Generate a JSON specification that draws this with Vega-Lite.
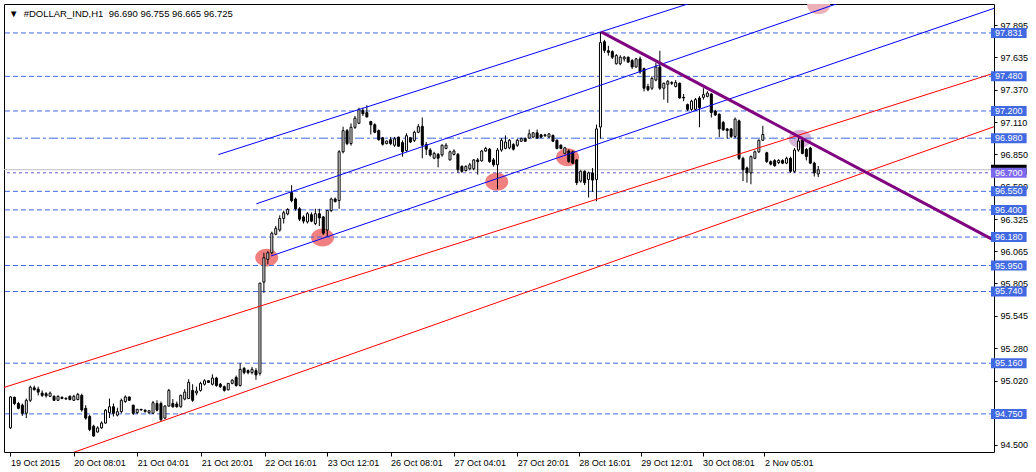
{
"$schema":"https://vega.github.io/schema/vega-lite/v6.json",
"width":990,"height":448,
"autosize":{"type":"none"},
"padding":{"left":4,"top":4,"right":42,"bottom":20},
"background":"white",
"config":{"view":{"stroke":"black","strokeWidth":1},"axis":{"labelFont":"Liberation Sans","labelFontSize":9,"labelColor":"black","tickColor":"black","grid":false,"domain":false}},
"title":{"text":"▼\u00a0\u00a0#DOLLAR_IND,H1\u00a0\u00a096.690 96.755 96.665 96.725","anchor":"start","frame":"group","offset":0,"dx":5,"dy":22,"font":"Liberation Sans","fontSize":9.5,"fontWeight":"normal","color":"black","baseline":"alphabetic"},
"resolve":{"scale":{"color":"independent"}},
"datasets":{
"bars":[
{"i":0,"o":94.637,"h":94.892,"l":94.629,"c":94.887},
{"i":1,"o":94.884,"h":94.89,"l":94.821,"c":94.834},
{"i":2,"o":94.834,"h":94.847,"l":94.787,"c":94.795},
{"i":3,"o":94.821,"h":94.834,"l":94.734,"c":94.755},
{"i":4,"o":94.755,"h":94.874,"l":94.716,"c":94.86},
{"i":5,"o":94.86,"h":94.979,"l":94.847,"c":94.966},
{"i":6,"o":94.961,"h":94.979,"l":94.94,"c":94.945},
{"i":7,"o":94.95,"h":94.97,"l":94.9,"c":94.926},
{"i":8,"o":94.918,"h":94.94,"l":94.887,"c":94.9},
{"i":9,"o":94.913,"h":94.926,"l":94.882,"c":94.897},
{"i":10,"o":94.892,"h":94.931,"l":94.887,"c":94.918},
{"i":11,"o":94.892,"h":94.9,"l":94.855,"c":94.86},
{"i":12,"o":94.86,"h":94.9,"l":94.855,"c":94.892},
{"i":13,"o":94.884,"h":94.892,"l":94.87,"c":94.874},
{"i":14,"o":94.87,"h":94.884,"l":94.865,"c":94.876},
{"i":15,"o":94.892,"h":94.9,"l":94.86,"c":94.866},
{"i":16,"o":94.86,"h":94.905,"l":94.855,"c":94.892},
{"i":17,"o":94.866,"h":94.92,"l":94.86,"c":94.908},
{"i":18,"o":94.9,"h":94.913,"l":94.768,"c":94.782},
{"i":19,"o":94.795,"h":94.82,"l":94.703,"c":94.716},
{"i":20,"o":94.729,"h":94.742,"l":94.61,"c":94.624},
{"i":21,"o":94.65,"h":94.663,"l":94.566,"c":94.571},
{"i":22,"o":94.603,"h":94.65,"l":94.6,"c":94.637},
{"i":23,"o":94.637,"h":94.69,"l":94.63,"c":94.676},
{"i":24,"o":94.676,"h":94.79,"l":94.67,"c":94.78},
{"i":25,"o":94.76,"h":94.874,"l":94.716,"c":94.808},
{"i":26,"o":94.808,"h":94.834,"l":94.729,"c":94.755},
{"i":27,"o":94.74,"h":94.8,"l":94.73,"c":94.768},
{"i":28,"o":94.768,"h":94.874,"l":94.755,"c":94.86},
{"i":29,"o":94.85,"h":94.9,"l":94.84,"c":94.887},
{"i":30,"o":94.887,"h":94.89,"l":94.855,"c":94.86},
{"i":31,"o":94.82,"h":94.825,"l":94.742,"c":94.755},
{"i":32,"o":94.76,"h":94.79,"l":94.75,"c":94.787},
{"i":33,"o":94.787,"h":94.79,"l":94.775,"c":94.782},
{"i":34,"o":94.78,"h":94.787,"l":94.76,"c":94.77},
{"i":35,"o":94.76,"h":94.78,"l":94.75,"c":94.776},
{"i":36,"o":94.755,"h":94.855,"l":94.75,"c":94.84},
{"i":37,"o":94.834,"h":94.86,"l":94.77,"c":94.78},
{"i":38,"o":94.834,"h":94.85,"l":94.69,"c":94.703},
{"i":39,"o":94.716,"h":94.82,"l":94.71,"c":94.813},
{"i":40,"o":94.813,"h":94.952,"l":94.81,"c":94.94},
{"i":41,"o":94.834,"h":94.87,"l":94.8,"c":94.808},
{"i":42,"o":94.83,"h":94.85,"l":94.8,"c":94.808},
{"i":43,"o":94.808,"h":94.905,"l":94.8,"c":94.9},
{"i":44,"o":94.87,"h":94.95,"l":94.86,"c":94.926},
{"i":45,"o":94.874,"h":95.03,"l":94.87,"c":95.005},
{"i":46,"o":94.94,"h":94.99,"l":94.847,"c":94.86},
{"i":47,"o":94.92,"h":94.97,"l":94.9,"c":94.935},
{"i":48,"o":94.94,"h":95.01,"l":94.93,"c":94.997},
{"i":49,"o":94.99,"h":95.03,"l":94.98,"c":95.018},
{"i":50,"o":95.018,"h":95.02,"l":95.0,"c":95.005},
{"i":51,"o":94.99,"h":95.07,"l":94.98,"c":95.04},
{"i":52,"o":95.04,"h":95.05,"l":94.97,"c":94.98},
{"i":53,"o":94.99,"h":95.0,"l":94.96,"c":94.97},
{"i":54,"o":94.97,"h":94.98,"l":94.93,"c":94.94},
{"i":55,"o":94.945,"h":95.0,"l":94.94,"c":94.997},
{"i":56,"o":94.997,"h":95.03,"l":94.99,"c":95.023},
{"i":57,"o":95.045,"h":95.06,"l":94.97,"c":94.98},
{"i":58,"o":94.98,"h":95.16,"l":94.97,"c":95.11},
{"i":59,"o":95.118,"h":95.13,"l":95.07,"c":95.084},
{"i":60,"o":95.1,"h":95.11,"l":95.07,"c":95.084},
{"i":61,"o":95.084,"h":95.13,"l":95.07,"c":95.11},
{"i":62,"o":95.1,"h":95.12,"l":95.026,"c":95.065},
{"i":63,"o":95.078,"h":95.81,"l":95.06,"c":95.808},
{"i":64,"o":95.816,"h":96.053,"l":95.729,"c":96.013},
{"i":65,"o":96.0,"h":96.066,"l":95.96,"c":96.053},
{"i":66,"o":96.053,"h":96.224,"l":96.04,"c":96.211},
{"i":67,"o":96.203,"h":96.27,"l":96.195,"c":96.25},
{"i":68,"o":96.237,"h":96.356,"l":96.224,"c":96.33},
{"i":69,"o":96.33,"h":96.395,"l":96.29,"c":96.377},
{"i":70,"o":96.367,"h":96.414,"l":96.356,"c":96.403},
{"i":71,"o":96.54,"h":96.6,"l":96.462,"c":96.475},
{"i":72,"o":96.488,"h":96.5,"l":96.395,"c":96.409},
{"i":73,"o":96.409,"h":96.422,"l":96.309,"c":96.325},
{"i":74,"o":96.343,"h":96.356,"l":96.29,"c":96.309},
{"i":75,"o":96.303,"h":96.382,"l":96.29,"c":96.369},
{"i":76,"o":96.361,"h":96.38,"l":96.3,"c":96.309},
{"i":77,"o":96.29,"h":96.409,"l":96.277,"c":96.369},
{"i":78,"o":96.369,"h":96.409,"l":96.27,"c":96.335},
{"i":79,"o":96.343,"h":96.35,"l":96.198,"c":96.211},
{"i":80,"o":96.237,"h":96.4,"l":96.185,"c":96.395},
{"i":81,"o":96.395,"h":96.5,"l":96.382,"c":96.488},
{"i":82,"o":96.488,"h":96.5,"l":96.46,"c":96.467},
{"i":83,"o":96.475,"h":96.883,"l":96.409,"c":96.87},
{"i":84,"o":96.87,"h":97.073,"l":96.857,"c":97.041},
{"i":85,"o":97.041,"h":97.054,"l":96.923,"c":96.936},
{"i":86,"o":96.936,"h":97.1,"l":96.92,"c":97.068},
{"i":87,"o":97.068,"h":97.16,"l":97.055,"c":97.142},
{"i":88,"o":97.1,"h":97.226,"l":97.094,"c":97.213},
{"i":89,"o":97.205,"h":97.226,"l":97.16,"c":97.178},
{"i":90,"o":97.186,"h":97.247,"l":97.147,"c":97.152},
{"i":91,"o":97.115,"h":97.12,"l":97.01,"c":97.089},
{"i":92,"o":97.089,"h":97.1,"l":97.02,"c":97.028},
{"i":93,"o":97.041,"h":97.05,"l":96.96,"c":96.968},
{"i":94,"o":96.983,"h":96.99,"l":96.92,"c":96.931},
{"i":95,"o":96.936,"h":96.96,"l":96.93,"c":96.957},
{"i":96,"o":96.968,"h":96.99,"l":96.923,"c":96.936},
{"i":97,"o":96.923,"h":96.99,"l":96.91,"c":96.975},
{"i":98,"o":96.988,"h":96.994,"l":96.91,"c":96.915},
{"i":99,"o":96.944,"h":96.962,"l":96.83,"c":96.87},
{"i":100,"o":96.88,"h":97.02,"l":96.87,"c":97.0},
{"i":101,"o":96.983,"h":96.99,"l":96.94,"c":96.949},
{"i":102,"o":96.962,"h":97.04,"l":96.949,"c":97.028},
{"i":103,"o":97.028,"h":97.094,"l":97.02,"c":97.073},
{"i":104,"o":97.076,"h":97.147,"l":96.818,"c":96.923},
{"i":105,"o":96.928,"h":96.949,"l":96.844,"c":96.891},
{"i":106,"o":96.884,"h":96.9,"l":96.83,"c":96.844},
{"i":107,"o":96.818,"h":96.87,"l":96.81,"c":96.857},
{"i":108,"o":96.849,"h":96.86,"l":96.744,"c":96.818},
{"i":109,"o":96.844,"h":96.93,"l":96.83,"c":96.923},
{"i":110,"o":96.897,"h":96.94,"l":96.89,"c":96.923},
{"i":111,"o":96.804,"h":96.88,"l":96.8,"c":96.87},
{"i":112,"o":96.849,"h":96.89,"l":96.84,"c":96.876},
{"i":113,"o":96.849,"h":96.86,"l":96.699,"c":96.725},
{"i":114,"o":96.752,"h":96.76,"l":96.7,"c":96.712},
{"i":115,"o":96.718,"h":96.76,"l":96.71,"c":96.752},
{"i":116,"o":96.733,"h":96.78,"l":96.72,"c":96.765},
{"i":117,"o":96.733,"h":96.81,"l":96.72,"c":96.804},
{"i":118,"o":96.804,"h":96.82,"l":96.686,"c":96.791},
{"i":119,"o":96.797,"h":96.885,"l":96.79,"c":96.876},
{"i":120,"o":96.876,"h":96.91,"l":96.87,"c":96.897},
{"i":121,"o":96.891,"h":96.9,"l":96.78,"c":96.791},
{"i":122,"o":96.804,"h":96.82,"l":96.75,"c":96.765},
{"i":123,"o":96.765,"h":96.9,"l":96.567,"c":96.884},
{"i":124,"o":96.884,"h":96.98,"l":96.87,"c":96.963},
{"i":125,"o":96.897,"h":97.002,"l":96.89,"c":96.949},
{"i":126,"o":96.902,"h":96.975,"l":96.89,"c":96.963},
{"i":127,"o":96.928,"h":96.94,"l":96.88,"c":96.891},
{"i":128,"o":96.923,"h":96.975,"l":96.91,"c":96.963},
{"i":129,"o":96.955,"h":96.985,"l":96.95,"c":96.976},
{"i":130,"o":96.976,"h":96.985,"l":96.95,"c":96.955},
{"i":131,"o":96.981,"h":97.05,"l":96.975,"c":97.015},
{"i":132,"o":96.989,"h":97.03,"l":96.98,"c":97.023},
{"i":133,"o":97.023,"h":97.05,"l":96.975,"c":96.981},
{"i":134,"o":97.007,"h":97.015,"l":96.98,"c":96.989},
{"i":135,"o":97.0,"h":97.015,"l":96.99,"c":97.007},
{"i":136,"o":96.989,"h":97.02,"l":96.985,"c":97.015},
{"i":137,"o":97.002,"h":97.01,"l":96.95,"c":96.955},
{"i":138,"o":96.963,"h":96.97,"l":96.89,"c":96.897},
{"i":139,"o":96.923,"h":96.93,"l":96.89,"c":96.897},
{"i":140,"o":96.857,"h":96.91,"l":96.85,"c":96.902},
{"i":141,"o":96.876,"h":96.89,"l":96.78,"c":96.791},
{"i":142,"o":96.87,"h":96.88,"l":96.77,"c":96.778},
{"i":143,"o":96.804,"h":96.81,"l":96.6,"c":96.62},
{"i":144,"o":96.633,"h":96.72,"l":96.62,"c":96.712},
{"i":145,"o":96.712,"h":96.72,"l":96.6,"c":96.62},
{"i":146,"o":96.646,"h":96.71,"l":96.5,"c":96.699},
{"i":147,"o":96.699,"h":96.738,"l":96.546,"c":96.641},
{"i":148,"o":96.646,"h":97.09,"l":96.47,"c":97.055},
{"i":149,"o":97.07,"h":97.838,"l":96.975,"c":97.753},
{"i":150,"o":97.76,"h":97.775,"l":97.67,"c":97.69},
{"i":151,"o":97.687,"h":97.727,"l":97.648,"c":97.674},
{"i":152,"o":97.68,"h":97.69,"l":97.62,"c":97.635},
{"i":153,"o":97.582,"h":97.66,"l":97.575,"c":97.648},
{"i":154,"o":97.582,"h":97.65,"l":97.57,"c":97.635},
{"i":155,"o":97.621,"h":97.645,"l":97.6,"c":97.635},
{"i":156,"o":97.635,"h":97.64,"l":97.59,"c":97.595},
{"i":157,"o":97.608,"h":97.62,"l":97.54,"c":97.556},
{"i":158,"o":97.556,"h":97.63,"l":97.55,"c":97.621},
{"i":159,"o":97.621,"h":97.64,"l":97.5,"c":97.516},
{"i":160,"o":97.543,"h":97.55,"l":97.358,"c":97.384},
{"i":161,"o":97.398,"h":97.42,"l":97.36,"c":97.371},
{"i":162,"o":97.384,"h":97.48,"l":97.37,"c":97.463},
{"i":163,"o":97.45,"h":97.59,"l":97.44,"c":97.556},
{"i":164,"o":97.556,"h":97.687,"l":97.37,"c":97.384},
{"i":165,"o":97.384,"h":97.43,"l":97.292,"c":97.424},
{"i":166,"o":97.416,"h":97.45,"l":97.266,"c":97.44},
{"i":167,"o":97.43,"h":97.44,"l":97.41,"c":97.424},
{"i":168,"o":97.398,"h":97.45,"l":97.39,"c":97.43},
{"i":169,"o":97.424,"h":97.43,"l":97.3,"c":97.305},
{"i":170,"o":97.31,"h":97.337,"l":97.279,"c":97.305},
{"i":171,"o":97.252,"h":97.26,"l":97.2,"c":97.213},
{"i":172,"o":97.213,"h":97.29,"l":97.2,"c":97.279},
{"i":173,"o":97.213,"h":97.305,"l":97.2,"c":97.292},
{"i":174,"o":97.305,"h":97.32,"l":97.068,"c":97.226},
{"i":175,"o":97.31,"h":97.384,"l":97.292,"c":97.332},
{"i":176,"o":97.318,"h":97.36,"l":97.31,"c":97.345},
{"i":177,"o":97.337,"h":97.345,"l":97.147,"c":97.187},
{"i":178,"o":97.2,"h":97.21,"l":97.16,"c":97.168},
{"i":179,"o":97.173,"h":97.18,"l":96.989,"c":97.055},
{"i":180,"o":97.107,"h":97.12,"l":97.04,"c":97.047},
{"i":181,"o":97.055,"h":97.06,"l":96.976,"c":97.042},
{"i":182,"o":97.055,"h":97.06,"l":96.98,"c":96.994},
{"i":183,"o":96.994,"h":97.147,"l":96.98,"c":97.134},
{"i":184,"o":97.12,"h":97.13,"l":96.804,"c":96.817},
{"i":185,"o":96.817,"h":96.83,"l":96.633,"c":96.725},
{"i":186,"o":96.739,"h":96.75,"l":96.62,"c":96.699},
{"i":187,"o":96.699,"h":96.84,"l":96.607,"c":96.831},
{"i":188,"o":96.817,"h":96.88,"l":96.81,"c":96.87},
{"i":189,"o":96.87,"h":96.97,"l":96.86,"c":96.963},
{"i":190,"o":96.963,"h":97.08,"l":96.96,"c":97.01},
{"i":191,"o":96.862,"h":96.87,"l":96.78,"c":96.791},
{"i":192,"o":96.79,"h":96.8,"l":96.76,"c":96.77},
{"i":193,"o":96.799,"h":96.81,"l":96.75,"c":96.757},
{"i":194,"o":96.783,"h":96.81,"l":96.77,"c":96.8},
{"i":195,"o":96.799,"h":96.81,"l":96.77,"c":96.778},
{"i":196,"o":96.778,"h":96.83,"l":96.77,"c":96.817},
{"i":197,"o":96.817,"h":96.83,"l":96.7,"c":96.712},
{"i":198,"o":96.712,"h":96.9,"l":96.7,"c":96.884},
{"i":199,"o":96.884,"h":96.99,"l":96.87,"c":96.957},
{"i":200,"o":96.963,"h":96.99,"l":96.85,"c":96.857},
{"i":201,"o":96.889,"h":96.9,"l":96.8,"c":96.831},
{"i":202,"o":96.9,"h":96.91,"l":96.77,"c":96.778},
{"i":203,"o":96.778,"h":96.79,"l":96.67,"c":96.699},
{"i":204,"o":96.69,"h":96.755,"l":96.665,"c":96.725}
],
"levels":[{"p":97.831},{"p":97.48},{"p":97.2},{"p":96.55},{"p":96.4},{"p":96.18},{"p":95.95},{"p":95.74},{"p":95.16},{"p":94.75}],
"tags":[{"p":97.831,"kind":"level"},{"p":97.48,"kind":"level"},{"p":97.2,"kind":"level"},{"p":96.98,"kind":"level"},{"p":96.55,"kind":"level"},{"p":96.4,"kind":"level"},{"p":96.18,"kind":"level"},{"p":95.95,"kind":"level"},{"p":95.74,"kind":"level"},{"p":95.16,"kind":"level"},{"p":94.75,"kind":"level"},{"p":96.725,"kind":"bid"},{"p":96.7,"kind":"ask"}],
"trend":[
{"id":"a","kind":"channel","i":52.5,"p":96.847},{"id":"a","kind":"channel","i":173.75,"p":98.093},
{"id":"b","kind":"channel","i":62.1,"p":96.449},{"id":"b","kind":"channel","i":211.25,"p":98.095},
{"id":"c","kind":"channel","i":65.8,"p":96.027},{"id":"c","kind":"channel","i":248.75,"p":98.034},
{"id":"r1","kind":"support","i":-6.25,"p":94.917},{"id":"r1","kind":"support","i":251.25,"p":97.535},
{"id":"r2","kind":"support","i":13.75,"p":94.414},{"id":"r2","kind":"support","i":251.25,"p":97.105}
],
"down":[{"i":149.2,"p":97.84},{"i":251.25,"p":96.106}],
"spots":[
{"i":64.7,"p":96.014,"kind":"pink"},
{"i":78.8,"p":96.177,"kind":"pink"},
{"i":122.8,"p":96.628,"kind":"pink"},
{"i":140.7,"p":96.825,"kind":"pink"},
{"i":199.4,"p":96.975,"kind":"lilac"},
{"i":204.1,"p":98.056,"kind":"faint"}
]
},
"layer":[
{"data":{"name":"spots"},
 "mark":{"type":"point","filled":true,"shape":"M-1,0A1,0.78,0,1,0,1,0A1,0.78,0,1,0,-1,0Z","size":529,"opacity":1,"clip":true},
 "encoding":{
  "x":{"field":"i","type":"quantitative","scale":{"domain":[-0.375,247.125],"nice":false,"zero":false},
   "axis":{"orient":"bottom","values":[0,16,32,48.2,64.2,80,96,112,128,143.5,159.2,174.8,190.4],"labelExpr":"datum.value < 8 ? '19 Oct 2015' : datum.value < 24 ? '20 Oct 08:01' : datum.value < 40 ? '21 Oct 04:01' : datum.value < 56 ? '21 Oct 20:01' : datum.value < 72 ? '22 Oct 16:01' : datum.value < 88 ? '23 Oct 12:01' : datum.value < 104 ? '26 Oct 08:01' : datum.value < 120 ? '27 Oct 04:01' : datum.value < 136 ? '27 Oct 20:01' : datum.value < 151 ? '28 Oct 16:01' : datum.value < 167 ? '29 Oct 12:01' : datum.value < 182 ? '30 Oct 08:01' : '2 Nov 05:01'","labelAlign":"left","labelBaseline":"top","tickSize":4,"labelPadding":2,"labelFlush":false,"labelOverlap":false,"title":null}},
  "y":{"field":"p","type":"quantitative","scale":{"domain":[94.4823,98.0247],"nice":false,"zero":false},
   "axis":{"orient":"right","values":[97.895,97.635,97.37,97.11,96.85,96.59,96.325,96.065,95.805,95.545,95.28,95.02,94.5],"format":".3f","tickSize":3,"labelPadding":3,"labelBaseline":"middle","labelFlush":false,"labelOverlap":false,"title":null}},
  "color":{"field":"kind","type":"nominal","scale":{"domain":["pink","lilac","faint"],"range":["#F08080","#D8B4D8","#EBB0B8"]},"legend":null}}},
{"data":{"name":"levels"},
 "mark":{"type":"rule","color":"#4169E1","strokeWidth":1,"strokeDash":[5,3]},
 "encoding":{
  "y":{"field":"p","type":"quantitative","scale":{"domain":[94.4823,98.0247],"nice":false,"zero":false},
   "axis":{"orient":"right","values":[97.895,97.635,97.37,97.11,96.85,96.59,96.325,96.065,95.805,95.545,95.28,95.02,94.5],"format":".3f","tickSize":3,"labelPadding":3,"labelBaseline":"middle","labelFlush":false,"labelOverlap":false,"title":null}}}},
{"data":{"values":[{"p":96.98}]},
 "mark":{"type":"rule","color":"#4169E1","strokeWidth":1,"strokeDash":[9,3,3,3]},
 "encoding":{"y":{"field":"p","type":"quantitative","scale":{"domain":[94.4823,98.0247],"nice":false,"zero":false},
   "axis":{"orient":"right","values":[97.895,97.635,97.37,97.11,96.85,96.59,96.325,96.065,95.805,95.545,95.28,95.02,94.5],"format":".3f","tickSize":3,"labelPadding":3,"labelBaseline":"middle","labelFlush":false,"labelOverlap":false,"title":null}}}},
{"data":{"values":[{"p":96.725}]},
 "mark":{"type":"rule","color":"#C0C0C0","strokeWidth":1},
 "encoding":{"y":{"field":"p","type":"quantitative","scale":{"domain":[94.4823,98.0247],"nice":false,"zero":false},
   "axis":{"orient":"right","values":[97.895,97.635,97.37,97.11,96.85,96.59,96.325,96.065,95.805,95.545,95.28,95.02,94.5],"format":".3f","tickSize":3,"labelPadding":3,"labelBaseline":"middle","labelFlush":false,"labelOverlap":false,"title":null}}}},
{"data":{"values":[{"p":96.7}]},
 "mark":{"type":"rule","color":"#6A5ACD","strokeWidth":1,"strokeDash":[3,3]},
 "encoding":{"y":{"field":"p","type":"quantitative","scale":{"domain":[94.4823,98.0247],"nice":false,"zero":false},
   "axis":{"orient":"right","values":[97.895,97.635,97.37,97.11,96.85,96.59,96.325,96.065,95.805,95.545,95.28,95.02,94.5],"format":".3f","tickSize":3,"labelPadding":3,"labelBaseline":"middle","labelFlush":false,"labelOverlap":false,"title":null}}}},
{"data":{"name":"bars"},
 "mark":{"type":"rule","color":"black","strokeWidth":1},
 "encoding":{
  "x":{"field":"i","type":"quantitative","scale":{"domain":[-0.375,247.125],"nice":false,"zero":false},
   "axis":{"orient":"bottom","values":[0,16,32,48.2,64.2,80,96,112,128,143.5,159.2,174.8,190.4],"labelExpr":"datum.value < 8 ? '19 Oct 2015' : datum.value < 24 ? '20 Oct 08:01' : datum.value < 40 ? '21 Oct 04:01' : datum.value < 56 ? '21 Oct 20:01' : datum.value < 72 ? '22 Oct 16:01' : datum.value < 88 ? '23 Oct 12:01' : datum.value < 104 ? '26 Oct 08:01' : datum.value < 120 ? '27 Oct 04:01' : datum.value < 136 ? '27 Oct 20:01' : datum.value < 151 ? '28 Oct 16:01' : datum.value < 167 ? '29 Oct 12:01' : datum.value < 182 ? '30 Oct 08:01' : '2 Nov 05:01'","labelAlign":"left","labelBaseline":"top","tickSize":4,"labelPadding":2,"labelFlush":false,"labelOverlap":false,"title":null}},
  "y":{"field":"l","type":"quantitative","scale":{"domain":[94.4823,98.0247],"nice":false,"zero":false},
   "axis":{"orient":"right","values":[97.895,97.635,97.37,97.11,96.85,96.59,96.325,96.065,95.805,95.545,95.28,95.02,94.5],"format":".3f","tickSize":3,"labelPadding":3,"labelBaseline":"middle","labelFlush":false,"labelOverlap":false,"title":null}},
  "y2":{"field":"h"}}},
{"data":{"name":"bars"},
 "mark":{"type":"bar","size":2,"stroke":"black","strokeWidth":1},
 "encoding":{
  "x":{"field":"i","type":"quantitative","scale":{"domain":[-0.375,247.125],"nice":false,"zero":false},
   "axis":{"orient":"bottom","values":[0,16,32,48.2,64.2,80,96,112,128,143.5,159.2,174.8,190.4],"labelExpr":"datum.value < 8 ? '19 Oct 2015' : datum.value < 24 ? '20 Oct 08:01' : datum.value < 40 ? '21 Oct 04:01' : datum.value < 56 ? '21 Oct 20:01' : datum.value < 72 ? '22 Oct 16:01' : datum.value < 88 ? '23 Oct 12:01' : datum.value < 104 ? '26 Oct 08:01' : datum.value < 120 ? '27 Oct 04:01' : datum.value < 136 ? '27 Oct 20:01' : datum.value < 151 ? '28 Oct 16:01' : datum.value < 167 ? '29 Oct 12:01' : datum.value < 182 ? '30 Oct 08:01' : '2 Nov 05:01'","labelAlign":"left","labelBaseline":"top","tickSize":4,"labelPadding":2,"labelFlush":false,"labelOverlap":false,"title":null}},
  "y":{"field":"o","type":"quantitative","scale":{"domain":[94.4823,98.0247],"nice":false,"zero":false},
   "axis":{"orient":"right","values":[97.895,97.635,97.37,97.11,96.85,96.59,96.325,96.065,95.805,95.545,95.28,95.02,94.5],"format":".3f","tickSize":3,"labelPadding":3,"labelBaseline":"middle","labelFlush":false,"labelOverlap":false,"title":null}},
  "y2":{"field":"c"},
  "fill":{"condition":{"test":"datum.c >= datum.o","value":"white"},"value":"black"}}},
{"data":{"name":"trend"},
 "mark":{"type":"line","strokeWidth":1,"clip":true},
 "encoding":{
  "x":{"field":"i","type":"quantitative","scale":{"domain":[-0.375,247.125],"nice":false,"zero":false},
   "axis":{"orient":"bottom","values":[0,16,32,48.2,64.2,80,96,112,128,143.5,159.2,174.8,190.4],"labelExpr":"datum.value < 8 ? '19 Oct 2015' : datum.value < 24 ? '20 Oct 08:01' : datum.value < 40 ? '21 Oct 04:01' : datum.value < 56 ? '21 Oct 20:01' : datum.value < 72 ? '22 Oct 16:01' : datum.value < 88 ? '23 Oct 12:01' : datum.value < 104 ? '26 Oct 08:01' : datum.value < 120 ? '27 Oct 04:01' : datum.value < 136 ? '27 Oct 20:01' : datum.value < 151 ? '28 Oct 16:01' : datum.value < 167 ? '29 Oct 12:01' : datum.value < 182 ? '30 Oct 08:01' : '2 Nov 05:01'","labelAlign":"left","labelBaseline":"top","tickSize":4,"labelPadding":2,"labelFlush":false,"labelOverlap":false,"title":null}},
  "y":{"field":"p","type":"quantitative","scale":{"domain":[94.4823,98.0247],"nice":false,"zero":false},
   "axis":{"orient":"right","values":[97.895,97.635,97.37,97.11,96.85,96.59,96.325,96.065,95.805,95.545,95.28,95.02,94.5],"format":".3f","tickSize":3,"labelPadding":3,"labelBaseline":"middle","labelFlush":false,"labelOverlap":false,"title":null}},
  "detail":{"field":"id","type":"nominal"},
  "color":{"field":"kind","type":"nominal","scale":{"domain":["channel","support"],"range":["#0000FF","#FF0000"]},"legend":null}}},
{"data":{"name":"down"},
 "mark":{"type":"line","strokeWidth":3,"color":"#800080","clip":true},
 "encoding":{
  "x":{"field":"i","type":"quantitative","scale":{"domain":[-0.375,247.125],"nice":false,"zero":false},
   "axis":{"orient":"bottom","values":[0,16,32,48.2,64.2,80,96,112,128,143.5,159.2,174.8,190.4],"labelExpr":"datum.value < 8 ? '19 Oct 2015' : datum.value < 24 ? '20 Oct 08:01' : datum.value < 40 ? '21 Oct 04:01' : datum.value < 56 ? '21 Oct 20:01' : datum.value < 72 ? '22 Oct 16:01' : datum.value < 88 ? '23 Oct 12:01' : datum.value < 104 ? '26 Oct 08:01' : datum.value < 120 ? '27 Oct 04:01' : datum.value < 136 ? '27 Oct 20:01' : datum.value < 151 ? '28 Oct 16:01' : datum.value < 167 ? '29 Oct 12:01' : datum.value < 182 ? '30 Oct 08:01' : '2 Nov 05:01'","labelAlign":"left","labelBaseline":"top","tickSize":4,"labelPadding":2,"labelFlush":false,"labelOverlap":false,"title":null}},
  "y":{"field":"p","type":"quantitative","scale":{"domain":[94.4823,98.0247],"nice":false,"zero":false},
   "axis":{"orient":"right","values":[97.895,97.635,97.37,97.11,96.85,96.59,96.325,96.065,95.805,95.545,95.28,95.02,94.5],"format":".3f","tickSize":3,"labelPadding":3,"labelBaseline":"middle","labelFlush":false,"labelOverlap":false,"title":null}}}},
{"data":{"name":"tags"},
 "mark":{"type":"bar","orient":"horizontal","size":10,"clip":false},
 "encoding":{
  "x":{"datum":247.625,"type":"quantitative","scale":{"domain":[-0.375,247.125],"nice":false,"zero":false},
   "axis":{"orient":"bottom","values":[0,16,32,48.2,64.2,80,96,112,128,143.5,159.2,174.8,190.4],"labelExpr":"datum.value < 8 ? '19 Oct 2015' : datum.value < 24 ? '20 Oct 08:01' : datum.value < 40 ? '21 Oct 04:01' : datum.value < 56 ? '21 Oct 20:01' : datum.value < 72 ? '22 Oct 16:01' : datum.value < 88 ? '23 Oct 12:01' : datum.value < 104 ? '26 Oct 08:01' : datum.value < 120 ? '27 Oct 04:01' : datum.value < 136 ? '27 Oct 20:01' : datum.value < 151 ? '28 Oct 16:01' : datum.value < 167 ? '29 Oct 12:01' : datum.value < 182 ? '30 Oct 08:01' : '2 Nov 05:01'","labelAlign":"left","labelBaseline":"top","tickSize":4,"labelPadding":2,"labelFlush":false,"labelOverlap":false,"title":null}},
  "x2":{"datum":256.625},
  "y":{"field":"p","type":"quantitative","scale":{"domain":[94.4823,98.0247],"nice":false,"zero":false},
   "axis":{"orient":"right","values":[97.895,97.635,97.37,97.11,96.85,96.59,96.325,96.065,95.805,95.545,95.28,95.02,94.5],"format":".3f","tickSize":3,"labelPadding":3,"labelBaseline":"middle","labelFlush":false,"labelOverlap":false,"title":null}},
  "color":{"field":"kind","type":"nominal","scale":{"domain":["level","bid","ask"],"range":["#4169E1","#000000","#7B68EE"]},"legend":null}}},
{"data":{"name":"tags"},
 "transform":[{"filter":"datum.kind != 'bid'"}],
 "mark":{"type":"text","color":"white","font":"Liberation Sans","fontSize":9,"align":"center","baseline":"middle","clip":false},
 "encoding":{
  "x":{"datum":252.125,"type":"quantitative","scale":{"domain":[-0.375,247.125],"nice":false,"zero":false},
   "axis":{"orient":"bottom","values":[0,16,32,48.2,64.2,80,96,112,128,143.5,159.2,174.8,190.4],"labelExpr":"datum.value < 8 ? '19 Oct 2015' : datum.value < 24 ? '20 Oct 08:01' : datum.value < 40 ? '21 Oct 04:01' : datum.value < 56 ? '21 Oct 20:01' : datum.value < 72 ? '22 Oct 16:01' : datum.value < 88 ? '23 Oct 12:01' : datum.value < 104 ? '26 Oct 08:01' : datum.value < 120 ? '27 Oct 04:01' : datum.value < 136 ? '27 Oct 20:01' : datum.value < 151 ? '28 Oct 16:01' : datum.value < 167 ? '29 Oct 12:01' : datum.value < 182 ? '30 Oct 08:01' : '2 Nov 05:01'","labelAlign":"left","labelBaseline":"top","tickSize":4,"labelPadding":2,"labelFlush":false,"labelOverlap":false,"title":null}},
  "y":{"field":"p","type":"quantitative","scale":{"domain":[94.4823,98.0247],"nice":false,"zero":false},
   "axis":{"orient":"right","values":[97.895,97.635,97.37,97.11,96.85,96.59,96.325,96.065,95.805,95.545,95.28,95.02,94.5],"format":".3f","tickSize":3,"labelPadding":3,"labelBaseline":"middle","labelFlush":false,"labelOverlap":false,"title":null}},
  "text":{"field":"p","type":"quantitative","format":".3f"}}}
]
}
